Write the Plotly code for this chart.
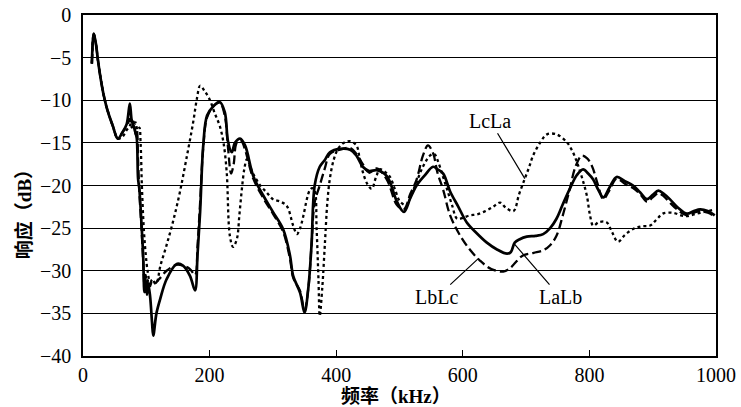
import plotly.graph_objects as go

# LaLb (solid)
lalb_f = [14, 17, 20, 24, 28, 33, 38, 47, 55, 62, 69, 74, 77, 80, 83, 85, 87, 89, 92, 95, 97, 99, 101, 103, 106, 109, 111, 116, 122, 132, 148, 158, 169, 177, 181, 185, 190, 196, 206, 216, 224, 229, 235, 240, 248, 256, 269, 285, 300, 316, 327, 332, 343, 350, 356, 361, 366, 374, 382, 390, 406, 422, 432, 442, 452, 464, 480, 496, 507, 517, 527, 540, 553, 560, 569, 580, 593, 606, 622, 638, 654, 670, 676, 682, 690, 701, 715, 727, 738, 748, 758, 769, 780, 790, 798, 806, 814, 822, 832, 843, 856, 869, 880, 891, 900, 909, 918, 927, 940, 954, 965, 975, 987, 998]
lalb_db = [-5.7, -2.2, -3.2, -5.5, -7.5, -9.5, -11, -13, -14.5, -13.8, -12.8, -10.4, -12.4, -13, -13.8, -14.5, -19.2, -20.4, -24, -28.2, -32.5, -31, -32.8, -31.5, -33, -36, -37.6, -35, -33.3, -31, -29.2, -29.4, -30.6, -32.3, -28, -23.1, -15.3, -11.8, -10.7, -10.2, -11.4, -14.8, -16.1, -15, -14.5, -15.3, -18.9, -21.2, -23.1, -25.1, -28.2, -30.6, -32.6, -34.9, -32, -27, -20, -17.8, -17, -16.1, -15.7, -15.8, -16.5, -17.8, -18.3, -18.2, -18.9, -21.9, -23.1, -21.5, -20, -18.8, -17.8, -18.1, -18.6, -20.7, -22.5, -24.3, -25.6, -26.7, -27.5, -28, -27.8, -26.7, -26.3, -26, -25.9, -25.7, -25, -23.9, -22.2, -20.4, -18.8, -18.1, -18.6, -19.3, -20.5, -21.4, -20.2, -19, -19.5, -20, -20.8, -21.6, -21.1, -20.6, -21, -21.6, -22.6, -23.3, -23, -22.8, -23, -23.5]

# LbLc (dashed)
lblc_f = [14, 17, 20, 24, 28, 33, 38, 47, 55, 62, 69, 74, 77, 80, 83, 85, 87, 89, 92, 95, 97, 99, 101, 103, 106, 109, 113, 120, 132, 148, 158, 169, 177, 181, 185, 190, 196, 206, 216, 224, 229, 234, 238, 243, 250, 256, 269, 285, 300, 316, 327, 332, 343, 350, 356, 361, 366, 374, 382, 390, 406, 422, 432, 442, 452, 464, 480, 496, 507, 517, 527, 537, 545, 553, 560, 569, 580, 596, 612, 627, 645, 664, 673, 680, 695, 712, 727, 738, 748, 758, 769, 778, 788, 796, 804, 813, 822, 832, 843, 856, 869, 880, 891, 900, 909, 918, 927, 940, 954, 965, 975, 987, 998]
lblc_db = [-5.7, -2.2, -3.2, -5.5, -7.5, -9.5, -11, -13, -14.5, -13.8, -13, -12.2, -13.2, -12.5, -14, -13.5, -17, -20.8, -24.5, -28.8, -31.5, -30.5, -32.5, -31, -31.8, -31.2, -31.5, -31, -30, -29.3, -29.4, -29.8, -30.5, -27, -22, -15.5, -12, -10.7, -10.3, -11.8, -15.5, -18.6, -17.5, -15, -14.8, -15.8, -19.2, -21.5, -23.3, -25.4, -28.6, -30.8, -32.4, -34.6, -32, -27, -22, -20, -18, -16.3, -15.8, -15.6, -16.3, -17.5, -18.5, -18, -19.3, -22.3, -22.8, -21, -19.3, -16.5, -15.3, -16.2, -18.5, -20.5, -23.5, -25.9, -27.6, -28.8, -29.8, -30.1, -29.8, -29.3, -28.2, -27.9, -27.6, -27, -25.9, -23.5, -20.4, -17.8, -16.5, -16.8, -17.7, -19.8, -21.6, -20.5, -19.2, -19.8, -20.3, -21, -21.9, -21.4, -20.9, -21.3, -22, -22.9, -23.5, -23.2, -23, -23.2, -23.6]

# LcLa (dotted)
lcla_f = [14, 17, 20, 24, 28, 33, 38, 47, 55, 62, 69, 74, 77, 80, 83, 86, 89, 91, 93, 96, 99, 102, 106, 110, 114, 117, 122, 132, 143, 153, 163, 174, 180, 185, 192, 200, 208, 216, 222, 227, 232, 237, 243, 247, 251, 255, 259, 268, 280, 290, 300, 312, 322, 332, 338, 343, 348, 354, 358, 362, 366, 369, 372, 374, 378, 382, 386, 390, 396, 403, 412, 422, 432, 437, 442, 449, 456, 463, 469, 477, 485, 493, 501, 511, 519, 527, 537, 548, 555, 561, 568, 575, 583, 591, 600, 611, 622, 636, 648, 659, 668, 680, 689, 698, 705, 711, 722, 733, 748, 764, 772, 780, 788, 796, 801, 806, 815, 827, 836, 845, 856, 869, 882, 896, 906, 916, 932, 945, 954, 965, 975, 987, 998]
lcla_db = [-5.7, -2.2, -3.2, -5.5, -7.5, -9.5, -11, -13, -14.5, -14.3, -13.5, -13, -12.3, -13.2, -12.6, -13.5, -13.2, -15, -20, -25, -28, -30, -31.3, -31, -31.5, -31.3, -29.5, -27, -24, -20.8, -17, -12.6, -9.8, -8.3, -8.9, -9.9, -11.5, -13, -15, -18.4, -25.9, -27.2, -26.3, -23.5, -20.4, -18, -16.9, -18.5, -20, -20.8, -21.6, -21.9, -22.4, -24.7, -25.7, -25, -23.6, -21.5, -20.6, -20.3, -20.6, -25, -31, -35.3, -32, -27, -22, -19.2, -17, -15.7, -15, -14.8, -15.3, -16.8, -18.4, -19.8, -20.4, -19, -18.1, -18.4, -19, -20.5, -21.9, -22.3, -21, -19.6, -17.8, -16.5, -16.3, -17.2, -18.8, -20.4, -22.3, -23.9, -23.8, -23.5, -23.4, -23, -22.5, -22, -22.6, -23, -21, -19.2, -17.8, -16.5, -15, -14, -14, -14.9, -15.8, -17.2, -19, -21.2, -23.5, -24.7, -24.3, -24.3, -25.5, -26.6, -25.8, -25.1, -24.8, -24.7, -24, -23.3, -23.2, -23.5, -23.6, -23.4, -23.2, -23, -22.8]

x_ticks = [0, 200, 400, 600, 800, 1000]
y_ticks = [-40, -35, -30, -25, -20, -15, -10, -5, 0]

# label: (text, text_x, text_y, target_x, target_y)
labels = [
    ("LcLa", 643, -12.4, 698, -19.2),
    ("LbLc", 559, -33.1, 624, -28.6),
    ("LaLb", 754, -33.1, 682, -26.9),
]

FONT = "Times New Roman, Liberation Serif, Noto Sans CJK SC, serif"

fig = go.Figure()
fig.add_trace(go.Scatter(x=lcla_f, y=lcla_db, mode="lines", name="LcLa",
                         line=dict(color="black", width=2.3, dash="3px,3px"),
                         line_shape="spline"))
fig.add_trace(go.Scatter(x=lblc_f, y=lblc_db, mode="lines", name="LbLc",
                         line=dict(color="black", width=2.3, dash="9px,4px"),
                         line_shape="spline"))
fig.add_trace(go.Scatter(x=lalb_f, y=lalb_db, mode="lines", name="LaLb",
                         line=dict(color="black", width=2.7),
                         line_shape="spline"))

for text, tx, ty, px, py in labels:
    fig.add_annotation(x=px, y=py, ax=tx, ay=ty, axref="x", ayref="y",
                       xref="x", yref="y", text=text, showarrow=True,
                       arrowhead=0, arrowwidth=1.2, arrowcolor="black",
                       font=dict(family=FONT, size=20, color="black"))

fig.add_annotation(text="<b>响应（dB）</b>", xref="paper", yref="paper",
                   x=-0.092, y=0.43, xanchor="center", yanchor="middle",
                   textangle=-90, showarrow=False,
                   font=dict(family=FONT, size=19, color="black"))
fig.add_annotation(text="<b>频率（kHz）</b>", xref="paper", yref="paper",
                   x=0.494, y=-0.12, xanchor="center", yanchor="middle",
                   showarrow=False,
                   font=dict(family=FONT, size=19, color="black"))

fig.update_xaxes(range=[0, 1000], tickvals=x_ticks, ticks="inside", ticklen=6,
                 tickcolor="black", showline=True, linecolor="black", linewidth=1.5,
                 mirror=True, showgrid=False, zeroline=False, automargin=False,
                 tickfont=dict(family=FONT, size=20, color="black"))
fig.update_yaxes(range=[-40, 0], tickvals=y_ticks, ticks="", showline=True,
                 linecolor="black", linewidth=1.5, mirror=True, automargin=False,
                 ticklabelstandoff=6,
                 showgrid=True, gridcolor="black", gridwidth=1, zeroline=False,
                 tickfont=dict(family=FONT, size=20, color="black"))

fig.update_layout(width=741, height=407, margin=dict(l=83, r=25, t=15, b=51),
                  paper_bgcolor="white", plot_bgcolor="white", showlegend=False,
                  font=dict(family=FONT, color="black"))

fig.write_html("out.html")
